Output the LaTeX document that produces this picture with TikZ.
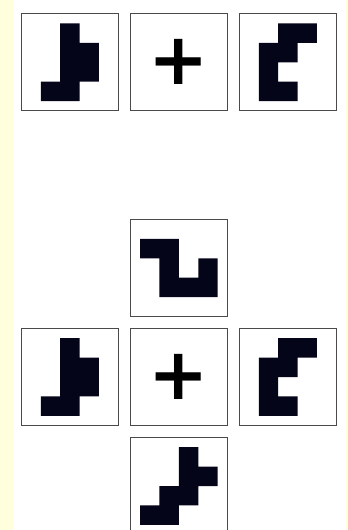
\documentclass[tikz,border=0pt]{standalone}
\usepackage{fontspec}
\newfontfamily\plusfont{DejaVu Sans}
\usetikzlibrary{positioning}
\definecolor{pieceInk}{HTML}{050519}
\definecolor{paneEdge}{HTML}{4A4A4A}
\definecolor{sideBar}{HTML}{FFFFDD}
\newcommand{\drawpiece}[4]{%
  \begin{scope}[shift={(#1.center)}, x=14.55pt, y=-14.55pt]
    \fill[pieceInk] \foreach \c/\r in {#4} {(\c-#2/2,\r-#3/2) rectangle ++(1,1)};
  \end{scope}}

\begin{document}
\begin{tikzpicture}[
  tile/.style={rectangle, draw=paneEdge, line width=1pt, fill=white,
               minimum size=72.75pt, inner sep=0pt, outer sep=0pt},
  plustile/.style={tile, font=\plusfont\bfseries\fontsize{54}{54}\selectfont}
]
  \fill[white] (0,0) rectangle (261pt,-397.5pt);
  \fill[sideBar] (0,0) rectangle (10.5pt,-397.5pt);
  \fill[sideBar] (259.5pt,0) rectangle (261pt,-397.5pt);
  \useasboundingbox (0,0) rectangle (261pt,-397.5pt);

  \node[tile] (sumA) at (52.4pt,-46.7pt) {};
  \node[plustile, right=9pt of sumA] (sumOp) {+};
  \node[tile, right=9pt of sumOp] (sumB) {};

  \node[tile] (crossW) at (52.4pt,-282.75pt) {};
  \node[plustile, right=9pt of crossW] (crossOp) {+};
  \node[tile, right=9pt of crossOp] (crossE) {};
  \node[tile, above=9pt of crossOp] (crossN) {};
  \node[tile, below=9pt of crossOp] (crossS) {};

  \drawpiece{sumA}{3}{4}{1/0,1/1,2/1,1/2,2/2,0/3,1/3}
  \drawpiece{sumB}{3}{4}{1/0,2/0,0/1,1/1,0/2,0/3,1/3}
  \drawpiece{crossW}{3}{4}{1/0,1/1,2/1,1/2,2/2,0/3,1/3}
  \drawpiece{crossE}{3}{4}{1/0,2/0,0/1,1/1,0/2,0/3,1/3}
  \drawpiece{crossN}{4}{3}{0/0,1/0,1/1,3/1,1/2,2/2,3/2}
  \drawpiece{crossS}{4}{4}{2/0,2/1,3/1,1/2,2/2,0/3,1/3}
\end{tikzpicture}
\end{document}
